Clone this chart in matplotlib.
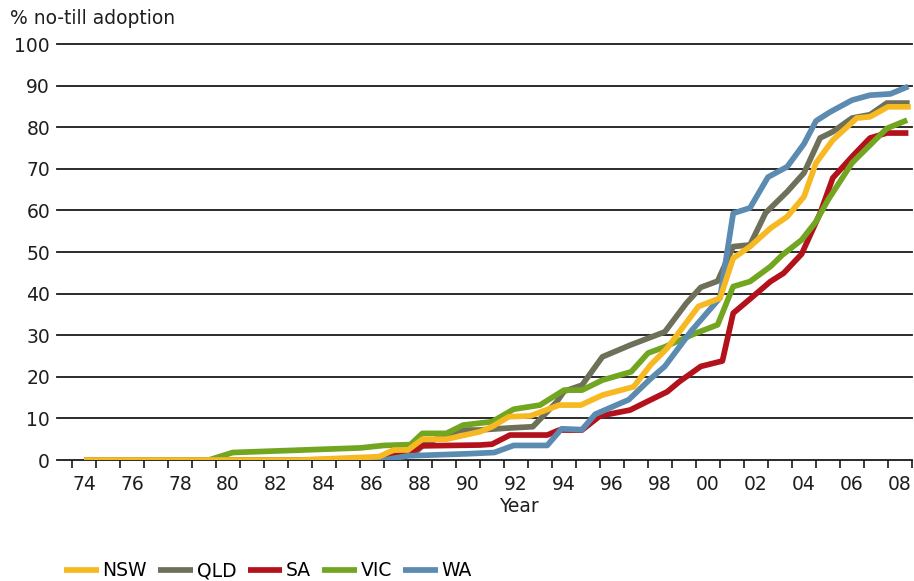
import numpy as np
import matplotlib
matplotlib.use('Agg')
import matplotlib.pyplot as plt
from matplotlib.ticker import FixedLocator

plt.rcParams['font.family'] = ['DejaVu Sans']

# year (74 = 1974, 100 = 2000) and % no-till adoption
nsw_x = [74, 83, 86.3, 86.9, 87.5, 88.1, 89.1, 90.5, 91, 91.7, 92.6, 93.8, 94.7, 95.6, 96.9,
         97.6, 98.3, 99.6, 100.5, 101.05, 101.75, 102.6, 103.3, 104, 104.5, 105.2, 106.2,
         106.75, 107.5, 108.45]
nsw_y = [0, 0, 0.8, 2.4, 2.4, 5, 5, 6.8, 8, 10.4, 10.6, 13.2, 13.2, 15.6, 17.6,
         22.8, 26.9, 36.9, 38.9, 48.5, 51.3, 55.7, 58.5, 63.3, 71.4, 76.9, 82.2,
         82.5, 84.9, 84.9]

qld_x = [74, 86.5, 87, 87.7, 88.2, 89.7, 90.4, 91.75, 92.7, 93.7, 94, 94.75, 95.6, 96.75,
         98.2, 99.1, 99.7, 100.4, 101.05, 101.75, 102.4, 103.3, 104, 104.67, 105.2, 106,
         106.75, 107.45, 108.4]
qld_y = [0, 0, 1.2, 1.2, 4, 7.2, 7.2, 7.7, 8, 14, 16.5, 18, 24.8, 27.6,
         30.8, 37.7, 41.5, 43, 51.3, 51.7, 59.4, 64.5, 69, 77.4, 78.9, 82.2,
         83, 85.8, 85.8]

sa_x = [74, 83, 86.3, 87.5, 88.1, 90.5, 91, 91.75, 93.3, 93.8, 94.75, 95.5, 96.75, 97.45,
        98.3, 98.8, 99.7, 100.6, 101.05, 101.75, 102.6, 103.15, 103.9, 104.67, 105.2, 106,
        106.75, 107.45, 108.35]
sa_y = [0, 0, 0.3, 1.5, 3.4, 3.6, 3.8, 6, 6, 7.2, 7.2, 10.6, 12, 14,
        16.4, 18.8, 22.5, 23.8, 35.3, 38.7, 42.9, 44.9, 49.5, 59.3, 67.8, 72.9,
        77.4, 78.6, 78.6]

vic_x = [74, 79.2, 80.2, 85.5, 86.5, 87.6, 88.1, 89.1, 89.8, 91, 91.9, 93, 94, 94.75, 95.6,
         96.8, 97.5, 98.2, 99.5, 100.4, 101.05, 101.75, 102.6, 103.1, 103.9, 104.5, 105, 106,
         107.45, 108.3]
vic_y = [0, 0, 1.8, 2.9, 3.5, 3.7, 6.4, 6.4, 8.4, 9.2, 12.2, 13.2, 16.8, 16.8, 19.2,
         21.2, 25.7, 27.2, 30.5, 32.5, 41.7, 42.9, 46.5, 49.3, 52.9, 57.3, 62.5, 71.4,
         79.7, 81.7]

wa_x = [74, 86.5, 87.5, 88.5, 90, 91.1, 91.9, 93.3, 93.9, 94.75, 95.3, 96.7, 97.6, 98.2,
        99.3, 100.5, 101.05, 101.75, 102.5, 103.3, 104, 104.5, 105.1, 106, 106.75, 107.6,
        108.35]
wa_y = [0, 0, 1, 1.2, 1.5, 1.8, 3.5, 3.5, 7.5, 7.3, 11, 14.5, 19.5, 22.5,
        31, 39, 59.3, 60.6, 68, 70.5, 76, 81.5, 83.7, 86.5, 87.7, 88,
        89.8]

year_ticks = list(range(74, 109, 2))
year_labels = ['%02d' % (y % 100) for y in year_ticks]
pct_ticks = list(range(0, 101, 10))


def main():
    fig = plt.figure(figsize=(9.14, 5.81), dpi=100)
    ax = fig.add_axes([57 / 914, 121 / 581, 855 / 914, 416 / 581])

    series = [
        ('QLD', qld_x, qld_y, '#6e7059'),
        ('SA', sa_x, sa_y, '#b3121c'),
        ('VIC', vic_x, vic_y, '#72a520'),
        ('WA', wa_x, wa_y, '#5b8bb1'),
        ('NSW', nsw_x, nsw_y, '#f6b922'),
    ]
    handles = {}
    for name, xs, ys, col in series:
        h, = ax.plot(xs, ys, color=col, lw=4.1, solid_joinstyle='round',
                     solid_capstyle='butt', zorder=3)
        handles[name] = h

    ax.set_xlim(72.875, 108.5)
    ax.set_ylim(0, 100)
    for s in ax.spines.values():
        s.set_visible(False)

    fs = 13.5
    ax.set_yticks(pct_ticks)
    ax.tick_params(axis='y', length=0, pad=5, labelsize=fs, labelcolor='#1e1e1e')
    ax.grid(axis='y', color='#1a1a1a', lw=1.3)
    for gl in ax.get_ygridlines():
        gl.set_clip_on(False)
        gl.set_zorder(1)

    ax.set_xticks(year_ticks)
    ax.set_xticklabels(year_labels)
    ax.xaxis.set_minor_locator(FixedLocator(np.arange(73.5, 108.6, 1)))
    ax.tick_params(axis='x', which='major', length=0, pad=11, labelsize=fs,
                   labelcolor='#1e1e1e')
    ax.tick_params(axis='x', which='minor', length=6, width=1.2, color='#1a1a1a')

    fig.text(10 / 914, 1 - 18 / 581, '% no-till adoption', fontsize=fs,
             color='#1e1e1e', va='center', ha='left')
    fig.text(519 / 914, 1 - 506 / 581, 'Year', fontsize=fs, color='#1e1e1e',
             va='center', ha='center')

    order = ['NSW', 'QLD', 'SA', 'VIC', 'WA']
    fig.legend([handles[n] for n in order], order, loc='center left',
               bbox_to_anchor=(64 / 914, 1 - 571 / 581), ncol=5, frameon=False,
               fontsize=fs, handlelength=1.85, handletextpad=0.2,
               columnspacing=0.6, borderpad=0, borderaxespad=0)

    fig.savefig('out.png', dpi=100)


if __name__ == '__main__':
    main()
